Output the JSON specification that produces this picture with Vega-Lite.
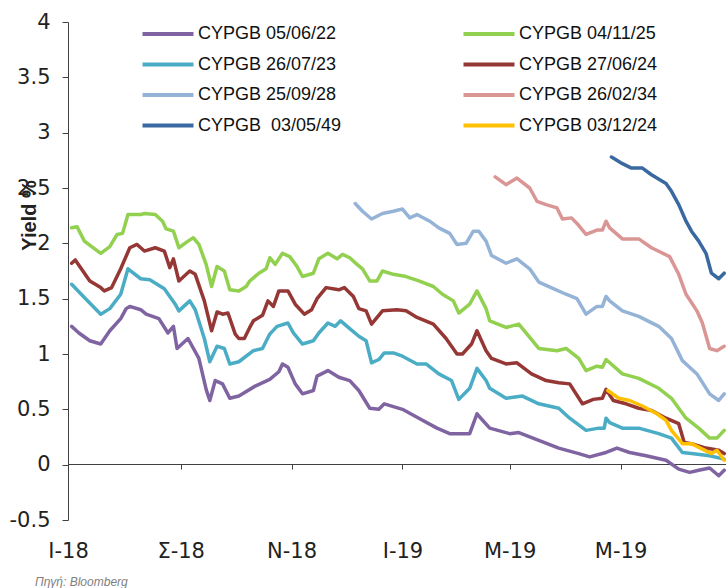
{
  "$schema": "https://vega.github.io/schema/vega-lite/v6.json",
  "width": 658,
  "height": 498,
  "autosize": {"type": "none"},
  "padding": {"left": 68, "top": 22, "right": 0, "bottom": 68},
  "background": "white",
  "config": {"view": {"stroke": null}},
  "title": {"text": "Πηγή: Bloomberg", "orient": "bottom", "anchor": "start", "frame": "group", "dx": -33, "offset": 16, "font": "Liberation Sans", "fontSize": 12, "fontStyle": "italic", "fontWeight": "normal", "color": "#7f7f7f", "baseline": "top"},
  "data": {"values": [
    {"s":"CYPGB 05/06/22","d":"2018-07-03","v":1.25},{"s":"CYPGB 05/06/22","d":"2018-07-07","v":1.19},{"s":"CYPGB 05/06/22","d":"2018-07-13","v":1.12},{"s":"CYPGB 05/06/22","d":"2018-07-19","v":1.09},{"s":"CYPGB 05/06/22","d":"2018-07-24","v":1.21},{"s":"CYPGB 05/06/22","d":"2018-07-30","v":1.32},{"s":"CYPGB 05/06/22","d":"2018-08-02","v":1.41},{"s":"CYPGB 05/06/22","d":"2018-08-04","v":1.43},{"s":"CYPGB 05/06/22","d":"2018-08-10","v":1.40},{"s":"CYPGB 05/06/22","d":"2018-08-13","v":1.36},{"s":"CYPGB 05/06/22","d":"2018-08-20","v":1.32},{"s":"CYPGB 05/06/22","d":"2018-08-25","v":1.19},{"s":"CYPGB 05/06/22","d":"2018-08-28","v":1.25},{"s":"CYPGB 05/06/22","d":"2018-08-30","v":1.05},{"s":"CYPGB 05/06/22","d":"2018-09-05","v":1.14},{"s":"CYPGB 05/06/22","d":"2018-09-11","v":0.96},{"s":"CYPGB 05/06/22","d":"2018-09-15","v":0.68},{"s":"CYPGB 05/06/22","d":"2018-09-17","v":0.58},{"s":"CYPGB 05/06/22","d":"2018-09-20","v":0.76},{"s":"CYPGB 05/06/22","d":"2018-09-24","v":0.73},{"s":"CYPGB 05/06/22","d":"2018-09-28","v":0.60},{"s":"CYPGB 05/06/22","d":"2018-10-03","v":0.62},{"s":"CYPGB 05/06/22","d":"2018-10-12","v":0.71},{"s":"CYPGB 05/06/22","d":"2018-10-20","v":0.77},{"s":"CYPGB 05/06/22","d":"2018-10-25","v":0.84},{"s":"CYPGB 05/06/22","d":"2018-10-27","v":0.91},{"s":"CYPGB 05/06/22","d":"2018-10-30","v":0.88},{"s":"CYPGB 05/06/22","d":"2018-11-03","v":0.73},{"s":"CYPGB 05/06/22","d":"2018-11-07","v":0.64},{"s":"CYPGB 05/06/22","d":"2018-11-13","v":0.67},{"s":"CYPGB 05/06/22","d":"2018-11-15","v":0.80},{"s":"CYPGB 05/06/22","d":"2018-11-21","v":0.85},{"s":"CYPGB 05/06/22","d":"2018-11-27","v":0.79},{"s":"CYPGB 05/06/22","d":"2018-12-03","v":0.76},{"s":"CYPGB 05/06/22","d":"2018-12-08","v":0.67},{"s":"CYPGB 05/06/22","d":"2018-12-14","v":0.51},{"s":"CYPGB 05/06/22","d":"2018-12-19","v":0.50},{"s":"CYPGB 05/06/22","d":"2018-12-22","v":0.55},{"s":"CYPGB 05/06/22","d":"2019-01-01","v":0.50},{"s":"CYPGB 05/06/22","d":"2019-01-10","v":0.42},{"s":"CYPGB 05/06/22","d":"2019-01-20","v":0.33},{"s":"CYPGB 05/06/22","d":"2019-01-27","v":0.28},{"s":"CYPGB 05/06/22","d":"2019-02-07","v":0.28},{"s":"CYPGB 05/06/22","d":"2019-02-11","v":0.46},{"s":"CYPGB 05/06/22","d":"2019-02-12","v":0.44},{"s":"CYPGB 05/06/22","d":"2019-02-18","v":0.33},{"s":"CYPGB 05/06/22","d":"2019-03-01","v":0.28},{"s":"CYPGB 05/06/22","d":"2019-03-06","v":0.29},{"s":"CYPGB 05/06/22","d":"2019-03-17","v":0.22},{"s":"CYPGB 05/06/22","d":"2019-03-28","v":0.15},{"s":"CYPGB 05/06/22","d":"2019-04-08","v":0.10},{"s":"CYPGB 05/06/22","d":"2019-04-14","v":0.07},{"s":"CYPGB 05/06/22","d":"2019-04-23","v":0.11},{"s":"CYPGB 05/06/22","d":"2019-04-29","v":0.15},{"s":"CYPGB 05/06/22","d":"2019-05-06","v":0.11},{"s":"CYPGB 05/06/22","d":"2019-05-15","v":0.08},{"s":"CYPGB 05/06/22","d":"2019-05-26","v":0.04},{"s":"CYPGB 05/06/22","d":"2019-06-02","v":-0.04},{"s":"CYPGB 05/06/22","d":"2019-06-08","v":-0.07},{"s":"CYPGB 05/06/22","d":"2019-06-13","v":-0.05},{"s":"CYPGB 05/06/22","d":"2019-06-19","v":-0.03},{"s":"CYPGB 05/06/22","d":"2019-06-24","v":-0.10},{"s":"CYPGB 05/06/22","d":"2019-06-27","v":-0.05},

    {"s":"CYPGB 26/07/23","d":"2018-07-03","v":1.63},{"s":"CYPGB 26/07/23","d":"2018-07-10","v":1.51},{"s":"CYPGB 26/07/23","d":"2018-07-19","v":1.36},{"s":"CYPGB 26/07/23","d":"2018-07-24","v":1.41},{"s":"CYPGB 26/07/23","d":"2018-07-30","v":1.54},{"s":"CYPGB 26/07/23","d":"2018-08-03","v":1.77},{"s":"CYPGB 26/07/23","d":"2018-08-10","v":1.68},{"s":"CYPGB 26/07/23","d":"2018-08-15","v":1.67},{"s":"CYPGB 26/07/23","d":"2018-08-23","v":1.59},{"s":"CYPGB 26/07/23","d":"2018-08-29","v":1.45},{"s":"CYPGB 26/07/23","d":"2018-08-31","v":1.39},{"s":"CYPGB 26/07/23","d":"2018-09-06","v":1.48},{"s":"CYPGB 26/07/23","d":"2018-09-09","v":1.40},{"s":"CYPGB 26/07/23","d":"2018-09-14","v":1.14},{"s":"CYPGB 26/07/23","d":"2018-09-17","v":0.93},{"s":"CYPGB 26/07/23","d":"2018-09-21","v":1.07},{"s":"CYPGB 26/07/23","d":"2018-09-25","v":1.05},{"s":"CYPGB 26/07/23","d":"2018-09-28","v":0.91},{"s":"CYPGB 26/07/23","d":"2018-10-03","v":0.93},{"s":"CYPGB 26/07/23","d":"2018-10-11","v":1.03},{"s":"CYPGB 26/07/23","d":"2018-10-16","v":1.05},{"s":"CYPGB 26/07/23","d":"2018-10-20","v":1.18},{"s":"CYPGB 26/07/23","d":"2018-10-24","v":1.25},{"s":"CYPGB 26/07/23","d":"2018-10-30","v":1.28},{"s":"CYPGB 26/07/23","d":"2018-11-02","v":1.19},{"s":"CYPGB 26/07/23","d":"2018-11-07","v":1.09},{"s":"CYPGB 26/07/23","d":"2018-11-13","v":1.12},{"s":"CYPGB 26/07/23","d":"2018-11-16","v":1.19},{"s":"CYPGB 26/07/23","d":"2018-11-21","v":1.28},{"s":"CYPGB 26/07/23","d":"2018-11-25","v":1.25},{"s":"CYPGB 26/07/23","d":"2018-11-28","v":1.30},{"s":"CYPGB 26/07/23","d":"2018-12-03","v":1.23},{"s":"CYPGB 26/07/23","d":"2018-12-08","v":1.16},{"s":"CYPGB 26/07/23","d":"2018-12-12","v":1.12},{"s":"CYPGB 26/07/23","d":"2018-12-15","v":0.92},{"s":"CYPGB 26/07/23","d":"2018-12-19","v":0.95},{"s":"CYPGB 26/07/23","d":"2018-12-22","v":1.01},{"s":"CYPGB 26/07/23","d":"2018-12-27","v":1.01},{"s":"CYPGB 26/07/23","d":"2019-01-01","v":0.98},{"s":"CYPGB 26/07/23","d":"2019-01-09","v":0.91},{"s":"CYPGB 26/07/23","d":"2019-01-14","v":0.91},{"s":"CYPGB 26/07/23","d":"2019-01-21","v":0.82},{"s":"CYPGB 26/07/23","d":"2019-01-28","v":0.76},{"s":"CYPGB 26/07/23","d":"2019-02-01","v":0.59},{"s":"CYPGB 26/07/23","d":"2019-02-07","v":0.69},{"s":"CYPGB 26/07/23","d":"2019-02-11","v":0.87},{"s":"CYPGB 26/07/23","d":"2019-02-16","v":0.76},{"s":"CYPGB 26/07/23","d":"2019-02-18","v":0.69},{"s":"CYPGB 26/07/23","d":"2019-02-27","v":0.60},{"s":"CYPGB 26/07/23","d":"2019-03-08","v":0.62},{"s":"CYPGB 26/07/23","d":"2019-03-17","v":0.55},{"s":"CYPGB 26/07/23","d":"2019-03-28","v":0.51},{"s":"CYPGB 26/07/23","d":"2019-04-03","v":0.42},{"s":"CYPGB 26/07/23","d":"2019-04-12","v":0.31},{"s":"CYPGB 26/07/23","d":"2019-04-19","v":0.33},{"s":"CYPGB 26/07/23","d":"2019-04-22","v":0.33},{"s":"CYPGB 26/07/23","d":"2019-04-23","v":0.42},{"s":"CYPGB 26/07/23","d":"2019-04-25","v":0.38},{"s":"CYPGB 26/07/23","d":"2019-05-02","v":0.33},{"s":"CYPGB 26/07/23","d":"2019-05-11","v":0.33},{"s":"CYPGB 26/07/23","d":"2019-05-22","v":0.28},{"s":"CYPGB 26/07/23","d":"2019-05-29","v":0.24},{"s":"CYPGB 26/07/23","d":"2019-06-04","v":0.11},{"s":"CYPGB 26/07/23","d":"2019-06-09","v":0.10},{"s":"CYPGB 26/07/23","d":"2019-06-19","v":0.08},{"s":"CYPGB 26/07/23","d":"2019-06-27","v":0.05},

    {"s":"CYPGB 27/06/24","d":"2018-07-03","v":1.82},{"s":"CYPGB 27/06/24","d":"2018-07-05","v":1.85},{"s":"CYPGB 27/06/24","d":"2018-07-13","v":1.66},{"s":"CYPGB 27/06/24","d":"2018-07-19","v":1.60},{"s":"CYPGB 27/06/24","d":"2018-07-21","v":1.57},{"s":"CYPGB 27/06/24","d":"2018-07-25","v":1.60},{"s":"CYPGB 27/06/24","d":"2018-07-30","v":1.77},{"s":"CYPGB 27/06/24","d":"2018-08-04","v":1.96},{"s":"CYPGB 27/06/24","d":"2018-08-08","v":1.99},{"s":"CYPGB 27/06/24","d":"2018-08-12","v":1.93},{"s":"CYPGB 27/06/24","d":"2018-08-18","v":1.96},{"s":"CYPGB 27/06/24","d":"2018-08-23","v":1.93},{"s":"CYPGB 27/06/24","d":"2018-08-26","v":1.78},{"s":"CYPGB 27/06/24","d":"2018-08-28","v":1.86},{"s":"CYPGB 27/06/24","d":"2018-08-31","v":1.66},{"s":"CYPGB 27/06/24","d":"2018-09-06","v":1.75},{"s":"CYPGB 27/06/24","d":"2018-09-09","v":1.72},{"s":"CYPGB 27/06/24","d":"2018-09-14","v":1.48},{"s":"CYPGB 27/06/24","d":"2018-09-18","v":1.21},{"s":"CYPGB 27/06/24","d":"2018-09-21","v":1.38},{"s":"CYPGB 27/06/24","d":"2018-09-24","v":1.36},{"s":"CYPGB 27/06/24","d":"2018-09-27","v":1.37},{"s":"CYPGB 27/06/24","d":"2018-10-01","v":1.18},{"s":"CYPGB 27/06/24","d":"2018-10-03","v":1.14},{"s":"CYPGB 27/06/24","d":"2018-10-06","v":1.14},{"s":"CYPGB 27/06/24","d":"2018-10-09","v":1.24},{"s":"CYPGB 27/06/24","d":"2018-10-11","v":1.30},{"s":"CYPGB 27/06/24","d":"2018-10-16","v":1.35},{"s":"CYPGB 27/06/24","d":"2018-10-19","v":1.48},{"s":"CYPGB 27/06/24","d":"2018-10-22","v":1.43},{"s":"CYPGB 27/06/24","d":"2018-10-25","v":1.57},{"s":"CYPGB 27/06/24","d":"2018-10-30","v":1.57},{"s":"CYPGB 27/06/24","d":"2018-11-03","v":1.45},{"s":"CYPGB 27/06/24","d":"2018-11-08","v":1.36},{"s":"CYPGB 27/06/24","d":"2018-11-12","v":1.40},{"s":"CYPGB 27/06/24","d":"2018-11-15","v":1.50},{"s":"CYPGB 27/06/24","d":"2018-11-20","v":1.60},{"s":"CYPGB 27/06/24","d":"2018-11-27","v":1.58},{"s":"CYPGB 27/06/24","d":"2018-11-30","v":1.60},{"s":"CYPGB 27/06/24","d":"2018-12-05","v":1.52},{"s":"CYPGB 27/06/24","d":"2018-12-08","v":1.41},{"s":"CYPGB 27/06/24","d":"2018-12-12","v":1.39},{"s":"CYPGB 27/06/24","d":"2018-12-15","v":1.27},{"s":"CYPGB 27/06/24","d":"2018-12-21","v":1.39},{"s":"CYPGB 27/06/24","d":"2018-12-29","v":1.40},{"s":"CYPGB 27/06/24","d":"2019-01-03","v":1.39},{"s":"CYPGB 27/06/24","d":"2019-01-09","v":1.33},{"s":"CYPGB 27/06/24","d":"2019-01-18","v":1.27},{"s":"CYPGB 27/06/24","d":"2019-01-25","v":1.14},{"s":"CYPGB 27/06/24","d":"2019-01-31","v":1.00},{"s":"CYPGB 27/06/24","d":"2019-02-03","v":1.00},{"s":"CYPGB 27/06/24","d":"2019-02-08","v":1.09},{"s":"CYPGB 27/06/24","d":"2019-02-11","v":1.21},{"s":"CYPGB 27/06/24","d":"2019-02-16","v":1.03},{"s":"CYPGB 27/06/24","d":"2019-02-19","v":0.96},{"s":"CYPGB 27/06/24","d":"2019-02-27","v":0.91},{"s":"CYPGB 27/06/24","d":"2019-03-05","v":0.92},{"s":"CYPGB 27/06/24","d":"2019-03-13","v":0.82},{"s":"CYPGB 27/06/24","d":"2019-03-21","v":0.76},{"s":"CYPGB 27/06/24","d":"2019-03-28","v":0.74},{"s":"CYPGB 27/06/24","d":"2019-04-03","v":0.73},{"s":"CYPGB 27/06/24","d":"2019-04-10","v":0.55},{"s":"CYPGB 27/06/24","d":"2019-04-16","v":0.59},{"s":"CYPGB 27/06/24","d":"2019-04-21","v":0.60},{"s":"CYPGB 27/06/24","d":"2019-04-23","v":0.68},{"s":"CYPGB 27/06/24","d":"2019-04-27","v":0.58},{"s":"CYPGB 27/06/24","d":"2019-05-04","v":0.55},{"s":"CYPGB 27/06/24","d":"2019-05-11","v":0.51},{"s":"CYPGB 27/06/24","d":"2019-05-18","v":0.49},{"s":"CYPGB 27/06/24","d":"2019-05-26","v":0.42},{"s":"CYPGB 27/06/24","d":"2019-06-02","v":0.37},{"s":"CYPGB 27/06/24","d":"2019-06-05","v":0.20},{"s":"CYPGB 27/06/24","d":"2019-06-09","v":0.19},{"s":"CYPGB 27/06/24","d":"2019-06-17","v":0.15},{"s":"CYPGB 27/06/24","d":"2019-06-24","v":0.13},{"s":"CYPGB 27/06/24","d":"2019-06-27","v":0.10},

    {"s":"CYPGB 04/11/25","d":"2018-07-03","v":2.14},{"s":"CYPGB 04/11/25","d":"2018-07-06","v":2.15},{"s":"CYPGB 04/11/25","d":"2018-07-10","v":2.02},{"s":"CYPGB 04/11/25","d":"2018-07-19","v":1.91},{"s":"CYPGB 04/11/25","d":"2018-07-24","v":1.97},{"s":"CYPGB 04/11/25","d":"2018-07-28","v":2.08},{"s":"CYPGB 04/11/25","d":"2018-07-31","v":2.09},{"s":"CYPGB 04/11/25","d":"2018-08-03","v":2.26},{"s":"CYPGB 04/11/25","d":"2018-08-10","v":2.26},{"s":"CYPGB 04/11/25","d":"2018-08-12","v":2.27},{"s":"CYPGB 04/11/25","d":"2018-08-18","v":2.26},{"s":"CYPGB 04/11/25","d":"2018-08-22","v":2.20},{"s":"CYPGB 04/11/25","d":"2018-08-24","v":2.13},{"s":"CYPGB 04/11/25","d":"2018-08-28","v":2.11},{"s":"CYPGB 04/11/25","d":"2018-08-31","v":1.96},{"s":"CYPGB 04/11/25","d":"2018-09-05","v":2.02},{"s":"CYPGB 04/11/25","d":"2018-09-08","v":2.05},{"s":"CYPGB 04/11/25","d":"2018-09-11","v":1.99},{"s":"CYPGB 04/11/25","d":"2018-09-15","v":1.81},{"s":"CYPGB 04/11/25","d":"2018-09-18","v":1.61},{"s":"CYPGB 04/11/25","d":"2018-09-21","v":1.79},{"s":"CYPGB 04/11/25","d":"2018-09-25","v":1.75},{"s":"CYPGB 04/11/25","d":"2018-09-28","v":1.58},{"s":"CYPGB 04/11/25","d":"2018-10-03","v":1.57},{"s":"CYPGB 04/11/25","d":"2018-10-07","v":1.61},{"s":"CYPGB 04/11/25","d":"2018-10-09","v":1.66},{"s":"CYPGB 04/11/25","d":"2018-10-14","v":1.73},{"s":"CYPGB 04/11/25","d":"2018-10-18","v":1.77},{"s":"CYPGB 04/11/25","d":"2018-10-20","v":1.87},{"s":"CYPGB 04/11/25","d":"2018-10-23","v":1.81},{"s":"CYPGB 04/11/25","d":"2018-10-27","v":1.91},{"s":"CYPGB 04/11/25","d":"2018-10-31","v":1.88},{"s":"CYPGB 04/11/25","d":"2018-11-04","v":1.79},{"s":"CYPGB 04/11/25","d":"2018-11-07","v":1.70},{"s":"CYPGB 04/11/25","d":"2018-11-13","v":1.73},{"s":"CYPGB 04/11/25","d":"2018-11-16","v":1.86},{"s":"CYPGB 04/11/25","d":"2018-11-21","v":1.91},{"s":"CYPGB 04/11/25","d":"2018-11-26","v":1.86},{"s":"CYPGB 04/11/25","d":"2018-11-29","v":1.90},{"s":"CYPGB 04/11/25","d":"2018-12-03","v":1.87},{"s":"CYPGB 04/11/25","d":"2018-12-07","v":1.81},{"s":"CYPGB 04/11/25","d":"2018-12-10","v":1.77},{"s":"CYPGB 04/11/25","d":"2018-12-14","v":1.66},{"s":"CYPGB 04/11/25","d":"2018-12-18","v":1.66},{"s":"CYPGB 04/11/25","d":"2018-12-21","v":1.75},{"s":"CYPGB 04/11/25","d":"2018-12-27","v":1.72},{"s":"CYPGB 04/11/25","d":"2019-01-03","v":1.70},{"s":"CYPGB 04/11/25","d":"2019-01-10","v":1.66},{"s":"CYPGB 04/11/25","d":"2019-01-18","v":1.61},{"s":"CYPGB 04/11/25","d":"2019-01-23","v":1.54},{"s":"CYPGB 04/11/25","d":"2019-01-29","v":1.48},{"s":"CYPGB 04/11/25","d":"2019-02-01","v":1.37},{"s":"CYPGB 04/11/25","d":"2019-02-07","v":1.45},{"s":"CYPGB 04/11/25","d":"2019-02-11","v":1.57},{"s":"CYPGB 04/11/25","d":"2019-02-16","v":1.41},{"s":"CYPGB 04/11/25","d":"2019-02-18","v":1.30},{"s":"CYPGB 04/11/25","d":"2019-02-27","v":1.24},{"s":"CYPGB 04/11/25","d":"2019-03-06","v":1.27},{"s":"CYPGB 04/11/25","d":"2019-03-17","v":1.05},{"s":"CYPGB 04/11/25","d":"2019-03-27","v":1.03},{"s":"CYPGB 04/11/25","d":"2019-04-01","v":1.05},{"s":"CYPGB 04/11/25","d":"2019-04-08","v":0.96},{"s":"CYPGB 04/11/25","d":"2019-04-12","v":0.85},{"s":"CYPGB 04/11/25","d":"2019-04-18","v":0.89},{"s":"CYPGB 04/11/25","d":"2019-04-21","v":0.88},{"s":"CYPGB 04/11/25","d":"2019-04-23","v":0.95},{"s":"CYPGB 04/11/25","d":"2019-05-02","v":0.82},{"s":"CYPGB 04/11/25","d":"2019-05-11","v":0.78},{"s":"CYPGB 04/11/25","d":"2019-05-22","v":0.69},{"s":"CYPGB 04/11/25","d":"2019-05-29","v":0.60},{"s":"CYPGB 04/11/25","d":"2019-06-06","v":0.42},{"s":"CYPGB 04/11/25","d":"2019-06-13","v":0.33},{"s":"CYPGB 04/11/25","d":"2019-06-19","v":0.24},{"s":"CYPGB 04/11/25","d":"2019-06-23","v":0.24},{"s":"CYPGB 04/11/25","d":"2019-06-27","v":0.31},

    {"s":"CYPGB 25/09/28","d":"2018-12-06","v":2.36},{"s":"CYPGB 25/09/28","d":"2018-12-10","v":2.29},{"s":"CYPGB 25/09/28","d":"2018-12-15","v":2.22},{"s":"CYPGB 25/09/28","d":"2018-12-21","v":2.27},{"s":"CYPGB 25/09/28","d":"2018-12-27","v":2.29},{"s":"CYPGB 25/09/28","d":"2019-01-01","v":2.31},{"s":"CYPGB 25/09/28","d":"2019-01-05","v":2.23},{"s":"CYPGB 25/09/28","d":"2019-01-09","v":2.26},{"s":"CYPGB 25/09/28","d":"2019-01-16","v":2.20},{"s":"CYPGB 25/09/28","d":"2019-01-21","v":2.14},{"s":"CYPGB 25/09/28","d":"2019-01-27","v":2.09},{"s":"CYPGB 25/09/28","d":"2019-01-31","v":1.99},{"s":"CYPGB 25/09/28","d":"2019-02-05","v":2.00},{"s":"CYPGB 25/09/28","d":"2019-02-09","v":2.11},{"s":"CYPGB 25/09/28","d":"2019-02-12","v":2.11},{"s":"CYPGB 25/09/28","d":"2019-02-16","v":2.02},{"s":"CYPGB 25/09/28","d":"2019-02-19","v":1.89},{"s":"CYPGB 25/09/28","d":"2019-02-27","v":1.82},{"s":"CYPGB 25/09/28","d":"2019-03-05","v":1.86},{"s":"CYPGB 25/09/28","d":"2019-03-12","v":1.77},{"s":"CYPGB 25/09/28","d":"2019-03-17","v":1.65},{"s":"CYPGB 25/09/28","d":"2019-03-25","v":1.59},{"s":"CYPGB 25/09/28","d":"2019-04-01","v":1.54},{"s":"CYPGB 25/09/28","d":"2019-04-07","v":1.50},{"s":"CYPGB 25/09/28","d":"2019-04-12","v":1.36},{"s":"CYPGB 25/09/28","d":"2019-04-18","v":1.43},{"s":"CYPGB 25/09/28","d":"2019-04-21","v":1.43},{"s":"CYPGB 25/09/28","d":"2019-04-23","v":1.52},{"s":"CYPGB 25/09/28","d":"2019-04-25","v":1.48},{"s":"CYPGB 25/09/28","d":"2019-05-02","v":1.39},{"s":"CYPGB 25/09/28","d":"2019-05-11","v":1.34},{"s":"CYPGB 25/09/28","d":"2019-05-22","v":1.25},{"s":"CYPGB 25/09/28","d":"2019-05-29","v":1.14},{"s":"CYPGB 25/09/28","d":"2019-06-04","v":0.94},{"s":"CYPGB 25/09/28","d":"2019-06-12","v":0.82},{"s":"CYPGB 25/09/28","d":"2019-06-19","v":0.64},{"s":"CYPGB 25/09/28","d":"2019-06-24","v":0.58},{"s":"CYPGB 25/09/28","d":"2019-06-27","v":0.64},

    {"s":"CYPGB 26/02/34","d":"2019-02-21","v":2.60},{"s":"CYPGB 26/02/34","d":"2019-02-27","v":2.53},{"s":"CYPGB 26/02/34","d":"2019-03-05","v":2.59},{"s":"CYPGB 26/02/34","d":"2019-03-12","v":2.50},{"s":"CYPGB 26/02/34","d":"2019-03-16","v":2.38},{"s":"CYPGB 26/02/34","d":"2019-03-21","v":2.35},{"s":"CYPGB 26/02/34","d":"2019-03-27","v":2.32},{"s":"CYPGB 26/02/34","d":"2019-03-30","v":2.22},{"s":"CYPGB 26/02/34","d":"2019-04-04","v":2.23},{"s":"CYPGB 26/02/34","d":"2019-04-07","v":2.18},{"s":"CYPGB 26/02/34","d":"2019-04-12","v":2.08},{"s":"CYPGB 26/02/34","d":"2019-04-18","v":2.12},{"s":"CYPGB 26/02/34","d":"2019-04-21","v":2.12},{"s":"CYPGB 26/02/34","d":"2019-04-23","v":2.20},{"s":"CYPGB 26/02/34","d":"2019-04-25","v":2.14},{"s":"CYPGB 26/02/34","d":"2019-05-02","v":2.04},{"s":"CYPGB 26/02/34","d":"2019-05-11","v":2.04},{"s":"CYPGB 26/02/34","d":"2019-05-18","v":1.96},{"s":"CYPGB 26/02/34","d":"2019-05-28","v":1.88},{"s":"CYPGB 26/02/34","d":"2019-06-02","v":1.72},{"s":"CYPGB 26/02/34","d":"2019-06-06","v":1.54},{"s":"CYPGB 26/02/34","d":"2019-06-12","v":1.39},{"s":"CYPGB 26/02/34","d":"2019-06-15","v":1.28},{"s":"CYPGB 26/02/34","d":"2019-06-19","v":1.05},{"s":"CYPGB 26/02/34","d":"2019-06-23","v":1.03},{"s":"CYPGB 26/02/34","d":"2019-06-27","v":1.07},

    {"s":"CYPGB \u00a003/05/49","d":"2019-04-26","v":2.78},{"s":"CYPGB \u00a003/05/49","d":"2019-05-02","v":2.72},{"s":"CYPGB \u00a003/05/49","d":"2019-05-07","v":2.68},{"s":"CYPGB \u00a003/05/49","d":"2019-05-13","v":2.68},{"s":"CYPGB \u00a003/05/49","d":"2019-05-18","v":2.62},{"s":"CYPGB \u00a003/05/49","d":"2019-05-26","v":2.54},{"s":"CYPGB \u00a003/05/49","d":"2019-05-29","v":2.47},{"s":"CYPGB \u00a003/05/49","d":"2019-06-02","v":2.35},{"s":"CYPGB \u00a003/05/49","d":"2019-06-06","v":2.20},{"s":"CYPGB \u00a003/05/49","d":"2019-06-09","v":2.11},{"s":"CYPGB \u00a003/05/49","d":"2019-06-13","v":2.02},{"s":"CYPGB \u00a003/05/49","d":"2019-06-17","v":1.91},{"s":"CYPGB \u00a003/05/49","d":"2019-06-20","v":1.73},{"s":"CYPGB \u00a003/05/49","d":"2019-06-24","v":1.68},{"s":"CYPGB \u00a003/05/49","d":"2019-06-27","v":1.73},

    {"s":"CYPGB 03/12/24","d":"2019-04-24","v":0.67},{"s":"CYPGB 03/12/24","d":"2019-04-30","v":0.60},{"s":"CYPGB 03/12/24","d":"2019-05-06","v":0.58},{"s":"CYPGB 03/12/24","d":"2019-05-13","v":0.53},{"s":"CYPGB 03/12/24","d":"2019-05-21","v":0.46},{"s":"CYPGB 03/12/24","d":"2019-05-26","v":0.40},{"s":"CYPGB 03/12/24","d":"2019-05-29","v":0.31},{"s":"CYPGB 03/12/24","d":"2019-06-04","v":0.19},{"s":"CYPGB 03/12/24","d":"2019-06-09","v":0.19},{"s":"CYPGB 03/12/24","d":"2019-06-15","v":0.14},{"s":"CYPGB 03/12/24","d":"2019-06-20","v":0.10},{"s":"CYPGB 03/12/24","d":"2019-06-23","v":0.13},{"s":"CYPGB 03/12/24","d":"2019-06-27","v":0.04}
  ]},
  "mark": {"type": "line", "strokeWidth": 3.5, "strokeJoin": "round", "strokeCap": "round"},
  "encoding": {
    "x": {
      "field": "d", "type": "temporal",
      "scale": {"type": "utc", "domain": [{"year": 2018, "month": 7, "date": 1, "utc": true}, {"year": 2019, "month": 6, "date": 28, "utc": true}]},
      "axis": {
        "orient": "bottom", "offset": -56, "title": null, "grid": false,
        "values": [{"year": 2018, "month": 7, "date": 1, "utc": true}, {"year": 2018, "month": 9, "date": 1, "utc": true}, {"year": 2018, "month": 11, "date": 1, "utc": true}, {"year": 2019, "month": 1, "date": 1, "utc": true}, {"year": 2019, "month": 3, "date": 1, "utc": true}, {"year": 2019, "month": 5, "date": 1, "utc": true}],
        "labelExpr": "['I','Φ','M','A','M','I','I','A','Σ','O','N','Δ'][utcmonth(datum.value)] + '-' + utcFormat(datum.value, '%y')",
        "domainColor": "#404040", "tickColor": "#404040", "tickSize": 5, "labelPadding": 71,
        "labelFont": "DejaVu Sans", "labelFontSize": 21, "labelColor": "#222222", "labelOverlap": false, "labelFlush": false
      }
    },
    "y": {
      "field": "v", "type": "quantitative",
      "scale": {"domain": [-0.5, 4], "nice": false, "zero": false},
      "axis": {
        "values": [-0.5, 0, 0.5, 1, 1.5, 2, 2.5, 3, 3.5, 4],
        "labelExpr": "'' + datum.value",
        "grid": false, "domainColor": "#404040", "tickColor": "#404040", "tickSize": 6, "labelPadding": 12,
        "labelFont": "DejaVu Sans", "labelFontSize": 21, "labelColor": "#222222",
        "title": "Yield %", "titleFont": "Liberation Sans", "titleFontWeight": "bold", "titleFontSize": 20, "titleColor": "#222222",
        "titleAngle": 270, "titleX": -39, "titleY": 193, "titleAlign": "center", "titleBaseline": "middle"
      }
    },
    "color": {
      "field": "s", "type": "nominal",
      "scale": {
        "domain": ["CYPGB 05/06/22", "CYPGB 26/07/23", "CYPGB 25/09/28", "CYPGB \u00a003/05/49", "CYPGB 04/11/25", "CYPGB 27/06/24", "CYPGB 26/02/34", "CYPGB 03/12/24"],
        "range": ["#8064A2", "#4BACC6", "#95B3D7", "#3A68A0", "#92D050", "#953735", "#D99694", "#FFC000"]
      },
      "legend": {
        "orient": "none", "legendX": 85, "legendY": -3, "columns": 2, "title": null, "padding": 0,
        "symbolType": "M-2,0H2", "symbolSize": 650, "symbolStrokeWidth": 4,
        "labelFont": "Liberation Sans", "labelFontSize": 18, "labelColor": "#111111", "labelOffset": 15, "labelLimit": 300,
        "rowPadding": 6.5, "columnPadding": 113
      }
    }
  }
}
